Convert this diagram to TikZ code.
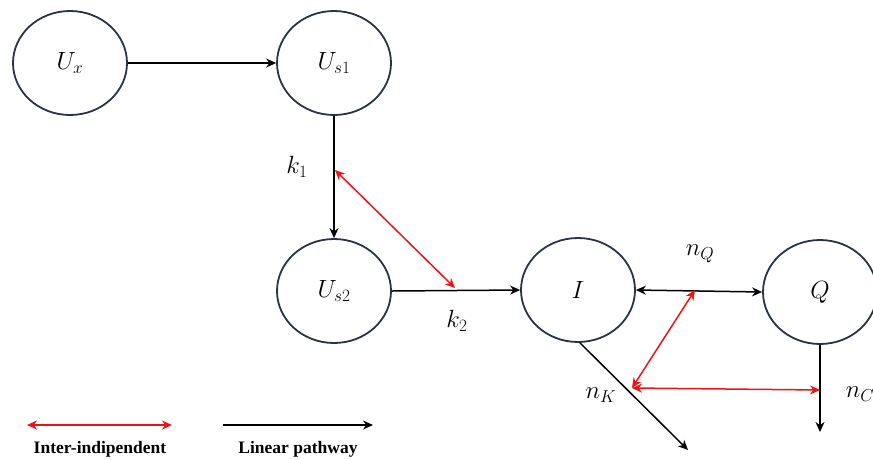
\documentclass[tikz,border=0pt]{standalone}
\usepackage{fontspec}
\newfontfamily\legendfont{Liberation Serif}
\usetikzlibrary{shapes.geometric,arrows.meta}
\definecolor{edgeblue}{RGB}{40,52,70}
\definecolor{redline}{RGB}{235,20,20}
\tikzset{
  state/.style={ellipse,draw=edgeblue,line width=1.8pt,minimum width=114pt,minimum height=104pt,inner sep=0pt,font=\fontsize{24}{28}\selectfont},
  lin/.style={draw=black,line width=1.5pt,-{Stealth[length=10pt,width=9pt]}},
  linboth/.style={draw=black,line width=1.5pt,{Stealth[length=10pt,width=9pt]}-{Stealth[length=10pt,width=9pt]}},
  inter/.style={draw=redline,line width=1.5pt,{Stealth[length=10pt,width=9pt]}-{Stealth[length=10pt,width=9pt]}},
  lab/.style={font=\fontsize{24}{28}\selectfont,inner sep=0pt},
  legtext/.style={font=\legendfont\bfseries\fontsize{17.5}{20}\selectfont,inner sep=0pt}
}
\begin{document}
\begin{tikzpicture}[x=1pt,y=-1pt]
\useasboundingbox (0,0) rectangle (873,459);
\node[state] (ux) at (70,63) {$U_x$};
\node[state] (us1) at (334,63) {$U_{s1}$};
\node[state] (us2) at (334,291) {$U_{s2}$};
\node[state] (i) at (578,290) {$I$};
\node[state] (q) at (820,292) {$Q$};
\draw[lin] (ux.east) -- (us1.west);
\draw[lin] (us1.south) -- (us2.north);
\draw[lin] (us2.east) -- (i.west);
\draw[linboth] (i.east) -- (q.west);
\coordinate (kend) at (688,450);
\coordinate (cend) at (820,432);
\draw[lin] (i.south) ++(2,0) coordinate (istart) -- (kend);
\draw[lin] (q.south) -- (cend);
\coordinate (r1a) at (335,170);
\coordinate (r1b) at (455,288);
\coordinate (r2a) at (695,290);
\coordinate (r2b) at (632,388);
\coordinate (r3b) at (820,390);
\draw[inter] (r1a) -- (r1b);
\draw[inter] (r2a) -- (r2b);
\draw[inter] (r2b) -- (r3b);
\node[lab] (k1) at (297,167) {$k_1$};
\node[lab] (k2) at (457,321) {$k_2$};
\node[lab] (nq) at (700,254) {$n_Q$};
\node[lab] (nk) at (601,395) {$n_K$};
\node[lab] (nc) at (860,394) {$n_C$};
\coordinate (l1a) at (27,425);
\coordinate (l1b) at (172,425);
\coordinate (l2a) at (223,425);
\coordinate (l2b) at (373,425);
\draw[inter] (l1a) -- (l1b);
\draw[lin] (l2a) -- (l2b);
\node[legtext] (t1) at (100,449) {Inter-indipendent};
\node[legtext] (t2) at (298,449) {Linear pathway};
\end{tikzpicture}
\end{document}
